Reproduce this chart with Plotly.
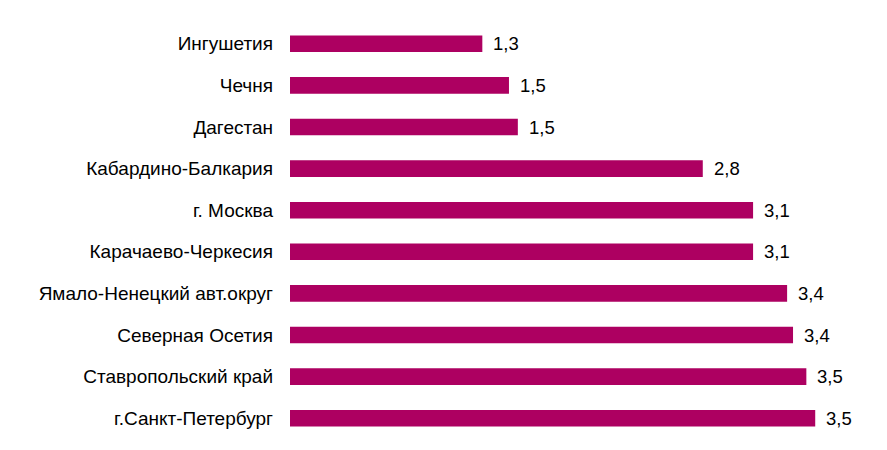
import plotly.graph_objects as go

regions = ["Ингушетия", "Чечня", "Дагестан", "Кабардино-Балкария", "г. Москва",
           "Карачаево-Черкесия", "Ямало-Ненецкий авт.округ", "Северная Осетия",
           "Ставропольский край", "г.Санкт-Петербург"]
values = [1.30, 1.48, 1.54, 2.79, 3.13, 3.13, 3.36, 3.40, 3.49, 3.55]

color = "#AD0061"
font = "Liberation Sans, Arial, sans-serif"

fig = go.Figure(go.Bar(
    y=regions, x=values, orientation="h",
    marker=dict(color=color, line=dict(width=0)),
    width=0.4,
))

for r, v in zip(regions, values):
    fig.add_annotation(x=v, y=r, text=f"{v:.1f}".replace(".", ","),
                       xanchor="left", yanchor="middle", xshift=9, showarrow=False,
                       font=dict(family=font, size=18.5, color="#000000"))

fig.update_layout(
    width=887, height=450,
    margin=dict(l=290, r=0, t=22.5, b=11.2),
    paper_bgcolor="white", plot_bgcolor="white",
    showlegend=False,
    separators=", ",
    font=dict(family=font, size=19, color="#000000"),
    xaxis=dict(range=[0, 597 / 147.95], visible=False, fixedrange=True),
    yaxis=dict(autorange="reversed", showline=False, showgrid=False,
               ticks="", ticklabelstandoff=16, tickfont=dict(family=font, size=19, color="#000000"),
               fixedrange=True),
)

fig.write_html("out.html")
